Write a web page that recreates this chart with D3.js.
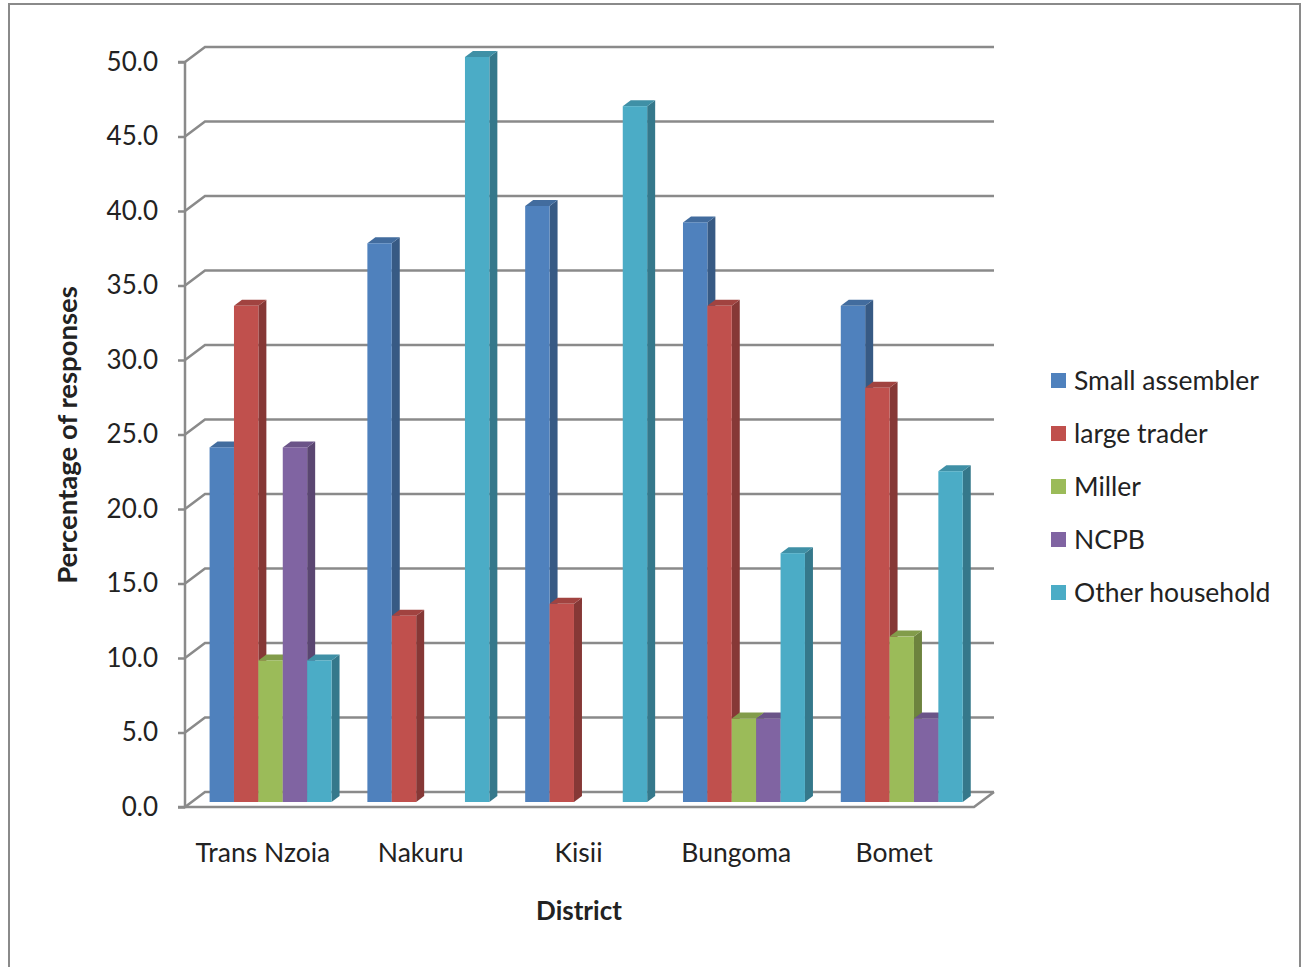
<!DOCTYPE html>
<html>
<head>
<meta charset="utf-8">
<script src="https://cdn.jsdelivr.net/npm/d3@7"></script>
<style>
  html, body { margin: 0; padding: 0; background: #fff; }
  svg { display: block; }
  text { font-family: Lato, "Open Sans", sans-serif; fill: #222; }
</style>
</head>
<body>
<svg id="chart" width="1303" height="967"></svg>
<script>
// District-level marketing channel responses (%)
const districts = ["Trans Nzoia", "Nakuru", "Kisii", "Bungoma", "Bomet"];
const seriesNames = ["Small assembler", "large trader", "Miller", "NCPB", "Other household"];
const smallAssembler = [23.8, 37.5, 40.0, 38.9, 33.3];
const largeTrader    = [33.3, 12.5, 13.3, 33.3, 27.8];
const miller         = [9.5, 0.0, 0.0, 5.6, 11.1];
const ncpb           = [23.8, 0.0, 0.0, 5.6, 5.6];
const otherHousehold = [9.5, 50.0, 46.7, 16.7, 22.2];
const yTicks = [0, 5, 10, 15, 20, 25, 30, 35, 40, 45, 50];
const colors = ["#4F81BD", "#C0504D", "#9BBB59", "#8064A2", "#4BACC6"];

const seriesValues = [smallAssembler, largeTrader, miller, ncpb, otherHousehold];

const svg = d3.select("#chart");

// Outer chart frame
svg.append("rect")
  .attr("x", 9).attr("y", 4).attr("width", 1291).attr("height", 980)
  .attr("fill", "none").attr("stroke", "#8a8a8a").attr("stroke-width", 2);

// 3D box geometry: front plane and back wall offset
const frontLeft = 185, frontRight = 974;
const depthX = 20, depthY = -15;          // floor depth offset (front -> back wall)
const barDepthFrac = 1 / 3;                 // bars' front face sits 1/3 into the floor
const barDX = 8, barDY = -6;                // bar thickness

const y = d3.scaleLinear().domain([0, 50]).range([807, 62]);

const x0 = d3.scaleBand().domain(districts)
  .range([frontLeft, frontRight])
  .paddingInner(0.227).paddingOuter(0.1135);
const x1 = d3.scaleBand().domain(seriesNames)
  .range([0, x0.bandwidth()]);

const gridColor = "#8a8a8a";
const grid = svg.append("g").attr("stroke", gridColor).attr("stroke-width", 2.5).attr("fill", "none");

// Back-wall gridlines with their diagonal along the side wall
yTicks.forEach(t => {
  const yf = y(t);
  grid.append("path")
    .attr("d", `M${frontLeft},${yf} L${frontLeft + depthX},${yf + depthY} L${frontRight + depthX},${yf + depthY}`);
});

// Floor outline: front edge and right edge
grid.append("path")
  .attr("d", `M${frontLeft},${y(0)} L${frontRight},${y(0)} L${frontRight + depthX},${y(0) + depthY}`);

// Y axis line and ticks
const yAxis = d3.axisLeft(y).tickValues(yTicks).tickSize(7).tickPadding(20)
  .tickFormat(d3.format(".1f"));
const yAxisG = svg.append("g").attr("transform", `translate(${frontLeft},0)`).call(yAxis);
yAxisG.select(".domain").attr("stroke", gridColor).attr("stroke-width", 2.5)
  .attr("d", `M-7,${y(50)}H0V${y(0)}H-7`);
yAxisG.selectAll(".tick line").attr("stroke", gridColor).attr("stroke-width", 2.5);
yAxisG.selectAll(".tick text")
  .attr("font-size", 26).attr("fill", "#222")
  .attr("font-family", "Lato, sans-serif");

// Bars
const bx = depthX * barDepthFrac, by = depthY * barDepthFrac;
const bars = svg.append("g");
districts.forEach((d, i) => {
  seriesNames.forEach((s, j) => {
    const v = seriesValues[j][i];
    if (!(v > 0)) return;
    const xl = x0(d) + x1(s) + bx;
    const xr = xl + x1.bandwidth();
    const yt = y(v) + by;
    const yb = y(0) + by;
    const c = d3.color(colors[j]);
    const g = bars.append("g");
    // side face
    g.append("path")
      .attr("d", `M${xr},${yt} L${xr + barDX},${yt + barDY} L${xr + barDX},${yb + barDY} L${xr},${yb} Z`)
      .attr("fill", c.darker(1.0));
    // top face
    g.append("path")
      .attr("d", `M${xl},${yt} L${xl + barDX},${yt + barDY} L${xr + barDX},${yt + barDY} L${xr},${yt} Z`)
      .attr("fill", c.darker(0.5));
    // front face
    g.append("rect")
      .attr("x", xl).attr("y", yt).attr("width", xr - xl).attr("height", yb - yt)
      .attr("fill", c);
  });
});

// Category labels
svg.append("g").selectAll("text").data(districts).join("text")
  .attr("x", d => x0(d) + x0.bandwidth() / 2 - 1)
  .attr("y", 862)
  .attr("text-anchor", "middle")
  .attr("font-size", 26.5)
  .text(d => d);

// Axis titles
svg.append("text")
  .attr("x", 579).attr("y", 920)
  .attr("text-anchor", "middle")
  .attr("font-size", 26).attr("font-weight", "bold")
  .text("District");

svg.append("text")
  .attr("transform", "translate(77,435) rotate(-90)")
  .attr("text-anchor", "middle")
  .attr("font-size", 27.5).attr("font-weight", "bold")
  .text("Percentage of responses");

// Legend
const legend = svg.append("g").attr("transform", "translate(1051,381)");
seriesNames.forEach((s, j) => {
  const row = legend.append("g").attr("transform", `translate(0,${j * 53})`);
  row.append("rect").attr("x", 0).attr("y", -8).attr("width", 15).attr("height", 15)
    .attr("fill", colors[j]);
  row.append("text").attr("x", 23).attr("y", 0).attr("dy", "0.35em")
    .attr("font-size", 26.5).text(s);
});
</script>
</body>
</html>
